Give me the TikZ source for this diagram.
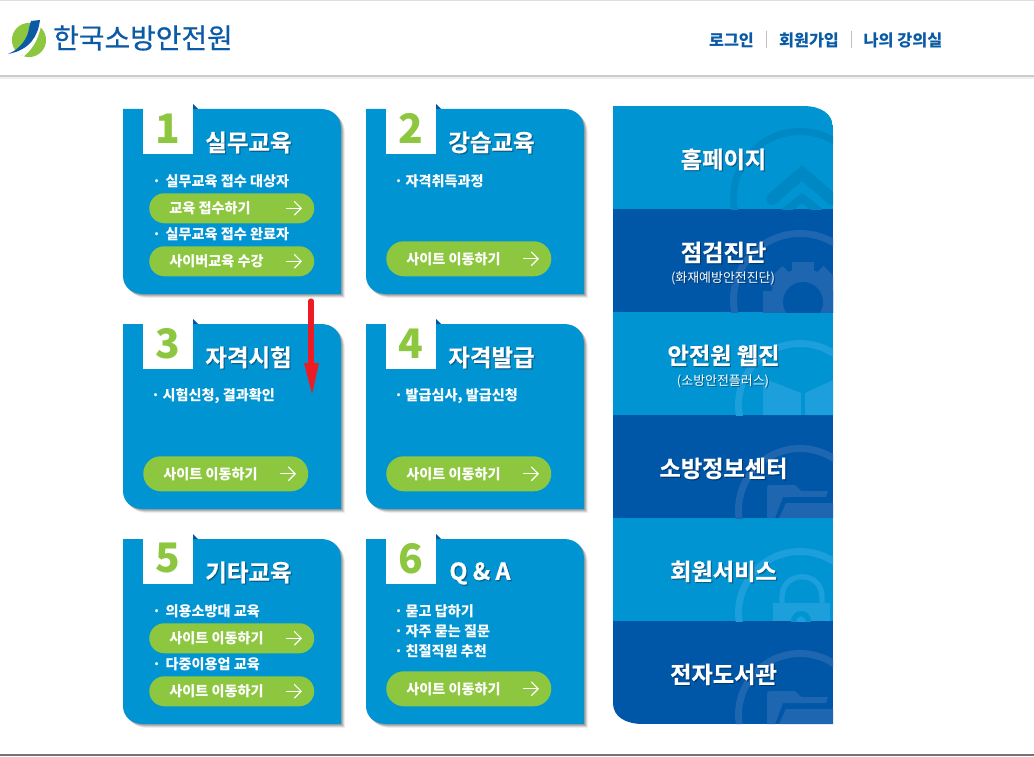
\documentclass[tikz,border=0pt]{standalone}
\usepackage{fontspec}
\setmainfont{Noto Sans CJK KR}
\newfontface\logofont{Noto Sans CJK KR}[FakeBold=0.6]
\newfontface\headfont{Noto Sans CJK KR Bold}[FakeBold=0.5]
\definecolor{cardblue}{HTML}{0094D3}
\definecolor{darkblue}{HTML}{0057A7}
\definecolor{btngreen}{HTML}{8DC73F}
\definecolor{navblue}{HTML}{0B5AA6}
\definecolor{ringdark}{HTML}{1F66B1}
\definecolor{ringlight}{HTML}{1C9FDB}
\definecolor{ringhome}{HTML}{0088C5}
\definecolor{shlight}{HTML}{0A5E8C}
\definecolor{shdark}{HTML}{003A72}
\definecolor{redarrow}{HTML}{ED1C24}
\newcommand{\stxt}[2]{\rlap{\kern0.9pt\raisebox{-0.9pt}{\textcolor{#1}{#2}}}#2}
\tikzset{
  x=0.75pt,y=-0.75pt,
  cardtitle/.style={font=\fontsize{17.6}{18}\headfont,text=white,inner sep=0pt},
  cardnum/.style={font=\fontsize{30.5}{31}\bfseries\selectfont,text=btngreen,inner sep=0pt},
  listtext/.style={font=\fontsize{10.6}{11}\bfseries\selectfont,text=white,inner sep=0pt,anchor=west},
  btntext/.style={font=\fontsize{10.6}{11}\bfseries\selectfont,text=white,inner sep=0pt,anchor=west},
  navtext/.style={font=\fontsize{12.2}{13}\bfseries\selectfont,text=navblue,inner sep=0pt},
  sidetitle/.style={font=\fontsize{17.4}{18}\headfont,text=white,inner sep=0pt},
  sidesub/.style={font=\fontsize{9.7}{10}\selectfont,text=white,inner sep=0pt},
  arrowline/.style={draw=white,line width=0.85pt,line cap=round,line join=round},
}
\newcommand{\cardbody}{(0,0) -- (198,0) .. controls (210,0) and (218,8) .. (218,20) -- (218,185) -- (20,185) .. controls (8,185) and (0,177) .. (0,167) -- cycle}
% name, x, y, number, title, title x
\newcommand{\cardbox}[6]{%
  \begin{scope}[shift={(#2,#3)}]
    \foreach \d/\o in {4/0.06,3/0.10,2/0.14,1/0.14}{\fill[black,opacity=\o,shift={(\d,\d)}] \cardbody;}
    \fill[cardblue] \cardbody;
    \fill[darkblue] (70,-5) -- (75,0) -- (70,0) -- cycle;
    \node[fill=white,minimum width=37.5pt,minimum height=37.5pt,inner sep=0pt,anchor=north west] (#1box) at (20,-5) {};
    \node[cardnum] (#1num) at (45,19.5) {#4};
    \node[cardtitle] (#1title) at (#6,33.5) {\rule[-2.1pt]{0pt}{17.6pt}\stxt{shlight}{#5}};
  \end{scope}}
% name, x, y(top), h, text
\newcommand{\pill}[5]{%
  \node[fill=btngreen,rounded corners=#4*0.375pt,minimum width=123.75pt,minimum height=#4*0.75pt,inner sep=0pt,anchor=north west] (#1) at (#2,#3) {};
  \node[btntext] (#1t) at ([xshift=15pt]#1.west) {#5};
  \coordinate (#1a) at ([xshift=-10pt]#1.east);
  \draw[arrowline] ([xshift=-11pt]#1a) -- (#1a);
  \draw[arrowline] ([xshift=-5pt,yshift=5pt]#1a) -- (#1a) -- ([xshift=-5pt,yshift=-5pt]#1a);}
\newcommand{\ring}[4]{\draw[#4,line width=5.2pt] (#1,#2) circle (#3*0.75pt);}
\newcommand{\folder}[2]{%
  \fill[ringdark] (767,#2+33) -- (767,#2+3) .. controls (767,#2+1) and (768,#2) .. (770,#2) -- (795,#2) -- (801,#2+6) -- (828,#2+6) -- (826,#2+12) -- (783,#2+12) -- (775,#2+33) -- cycle;
  \fill[ringdark] (779,#2+33) -- (786,#2+18) -- (833,#2+18) -- (833,#2+33) -- cycle;}
\begin{document}
\begin{tikzpicture}
\useasboundingbox (0,0) rectangle (1034,756);
\fill[white] (0,0) rectangle (1034,756);
% header
\fill[black!13] (0,0) rectangle (1034,1.5);
\fill[black!6] (0,75) rectangle (1034,79);
\fill[black!20] (0,75.5) rectangle (1034,77.5);
\fill[black!55] (0,753.5) rectangle (1034,756);
% logo
\fill[btngreen] (29,40) circle (12.8pt);
\fill[white] (32,21) .. controls (30,32) and (25,46) .. (14,54) -- (24,56) .. controls (34,48) and (40,36) .. (42,20) -- cycle;
\fill[navblue] (31,21) -- (40,20) .. controls (38,36) and (30,50) .. (8,54) .. controls (18,50) and (25,42) .. (28,33) .. controls (29,28) and (30,24) .. (31,21) -- cycle;
\node[font=\fontsize{20.9}{21}\logofont,text=navblue,inner sep=0pt,anchor=west] (logotext) at (53,38) {한국소방안전원};
\node[navtext] (nav1) at (731.5,40.5) {로그인};
\node[navtext] (nav2) at (809,40.5) {회원가입};
\node[navtext] (nav3) at (903,40.5) {나의 강의실};
\draw[black!25] (766,31) -- (766,48);
\draw[black!25] (851,31) -- (851,48);
% side panels
\begin{scope}
\clip (613,106) -- (803,106) .. controls (820,106) and (833,113) .. (833,128) -- (833,724) -- (643,724) .. controls (626,724) and (613,717) .. (613,703) -- cycle;
\fill[cardblue] (613,106) rectangle (833,209);
\fill[darkblue] (613,209) rectangle (833,312);
\fill[cardblue] (613,312) rectangle (833,415);
\fill[darkblue] (613,415) rectangle (833,518);
\fill[cardblue] (613,518) rectangle (833,621);
\fill[darkblue] (613,621) rectangle (833,724);
\begin{scope}\clip (613,106) rectangle (833,209);
  \ring{800}{198}{66.5}{ringhome}
  \draw[ringhome,line width=9pt,line join=miter,line cap=round] (772,199) -- (802,173) -- (832,199);
  \draw[ringhome,line width=6pt] (784,212) -- (802,198) -- (820,212);
\end{scope}
\begin{scope}\clip (613,209) rectangle (833,312);
  \ring{800}{300}{66.5}{ringdark}
  \fill[ringdark] (803,302) circle (25pt);
  \foreach \a in {0,45,...,315}{\fill[ringdark,rotate around={\a:(803,302)}] (792,262) rectangle (814,285);}
  \fill[darkblue] (803,302) circle (15pt);
\end{scope}
\begin{scope}\clip (613,312) rectangle (833,415);
  \ring{800}{405}{61.5}{ringlight}
  \fill[ringlight] (763,378) -- (801,393) -- (801,415) -- (763,415) -- cycle;
  \fill[ringlight] (833,380) -- (805,393) -- (805,415) -- (833,415) -- cycle;
\end{scope}
\begin{scope}\clip (613,415) rectangle (833,518);
  \ring{800}{510}{61.5}{ringdark}
  \folder{0}{485}
\end{scope}
\begin{scope}\clip (613,518) rectangle (833,621);
  \ring{800}{613}{61.5}{ringlight}
  \draw[ringlight,line width=4pt] (782,603) -- (782,597) .. controls (782,570) and (822,570) .. (822,597) -- (822,603);
  \fill[ringlight] (773,603) rectangle (830,621);
  \fill[cardblue] (801,621) circle (7.5pt);
  \fill[ringlight] (801,621) circle (3.5pt);
\end{scope}
\begin{scope}\clip (613,621) rectangle (833,724);
  \ring{800}{715}{61.5}{ringdark}
  \folder{0}{691}
\end{scope}
\end{scope}
\node[sidetitle] (s1) at (723.5,160) {\stxt{shlight}{홈페이지}};
\node[sidetitle] (s2) at (723.5,253) {\stxt{shdark}{점검진단}};
\node[sidesub] (s2b) at (723,279) {\stxt{shdark}{(화재예방안전진단)}};
\node[sidetitle] (s3) at (723.5,356) {\stxt{shlight}{안전원 웹진}};
\node[sidesub] (s3b) at (723,382) {\stxt{shlight}{(소방안전플러스)}};
\node[sidetitle] (s4) at (723.5,469) {\stxt{shdark}{소방정보센터}};
\node[sidetitle] (s5) at (723.5,572) {\stxt{shlight}{회원서비스}};
\node[sidetitle] (s6) at (723.5,675) {\stxt{shdark}{전자도서관}};
% cards
\cardbox{c1}{123}{109}{1}{실무교육}{125.5}
\cardbox{c2}{366}{109}{2}{강습교육}{125.5}
\cardbox{c3}{123}{324}{3}{자격시험}{125.5}
\cardbox{c4}{366}{324}{4}{자격발급}{125.5}
\cardbox{c5}{123}{539}{5}{기타교육}{125.5}
\cardbox{c6}{366}{539}{6}{Q \& A}{114}
% card 1
\node[listtext] (l1a) at (152,181.5) {·\hspace{3.5pt}실무교육 접수 대상자};
\pill{b1a}{149}{193}{30}{교육 접수하기}
\node[listtext] (l1b) at (152,234.5) {·\hspace{3.5pt}실무교육 접수 완료자};
\pill{b1b}{149}{246}{30}{사이버교육 수강}
% card 2
\node[listtext] (l2) at (394,181.5) {·\hspace{2pt}자격취득과정};
\pill{b2}{386}{241}{35}{사이트 이동하기}
% card 3
\node[listtext] (l3) at (151,396.5) {·\hspace{2pt}시험신청, 결과확인};
\pill{b3}{143}{456}{35}{사이트 이동하기}
% card 4
\node[listtext] (l4) at (394,396.5) {·\hspace{2pt}발급심사, 발급신청};
\pill{b4}{386}{456}{35}{사이트 이동하기}
% card 5
\node[listtext] (l5a) at (152,611.5) {·\hspace{3.5pt}의용소방대 교육};
\pill{b5a}{149}{623}{30}{사이트 이동하기}
\node[listtext] (l5b) at (152,664.5) {·\hspace{3.5pt}다중이용업 교육};
\pill{b5b}{149}{676}{30}{사이트 이동하기}
% card 6
\node[listtext] (l6a) at (394,611.5) {·\hspace{2pt}묻고 답하기};
\node[listtext] (l6b) at (394,631.5) {·\hspace{2pt}자주 묻는 질문};
\node[listtext] (l6c) at (394,651.5) {·\hspace{2pt}친절직원 추천};
\pill{b6}{386}{671}{35}{사이트 이동하기}
% red arrow
\coordinate (redtop) at (311,301);
\coordinate (redneck) at (311,364);
\draw[draw=redarrow,line width=3.8pt,line cap=round] (redtop) -- (redneck);
\fill[redarrow] (304,363) -- (319,363) -- (312,394) -- cycle;
\end{tikzpicture}
\end{document}
